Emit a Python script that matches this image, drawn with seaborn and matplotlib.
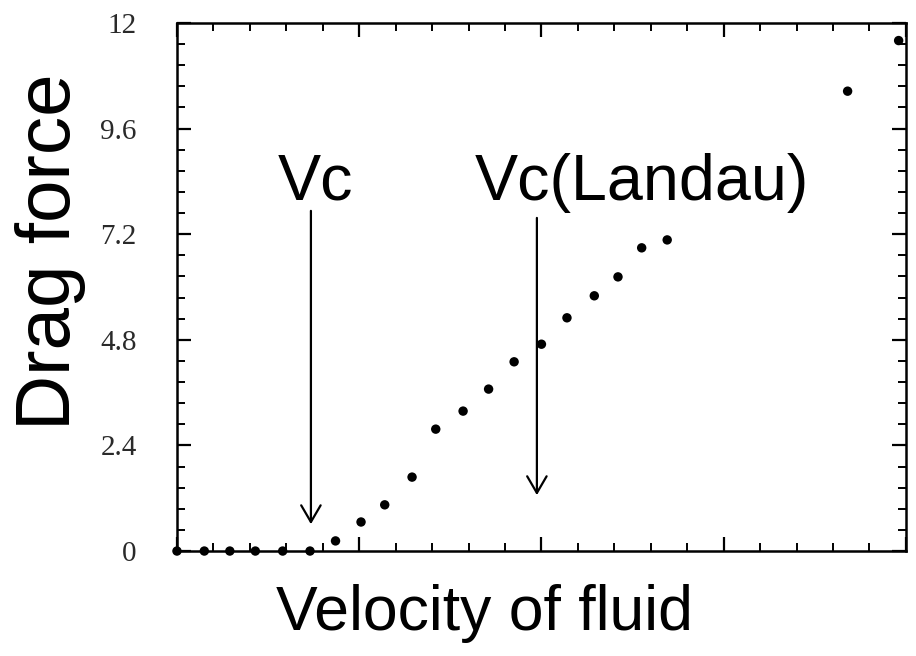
import matplotlib
matplotlib.use("Agg")
import matplotlib.pyplot as plt
from matplotlib.ticker import MultipleLocator
import seaborn as sns
import pandas as pd

# data (arbitrary velocity units)
velocity = [0.0, 0.15, 0.29, 0.43, 0.58, 0.73, 0.87, 1.01, 1.14, 1.29, 1.42,
            1.57, 1.71, 1.85, 2.00, 2.14, 2.29, 2.42, 2.55, 2.69, 3.68, 3.96]
drag = [0.0, 0.0, 0.0, 0.0, 0.0, 0.0, 0.23, 0.66, 1.05, 1.68, 2.77,
        3.18, 3.68, 4.30, 4.70, 5.30, 5.80, 6.23, 6.89, 7.07, 10.45, 11.60]
y_ticks = [0, 2.4, 4.8, 7.2, 9.6, 12]
y_tick_labels = ["0", "2.4", "4.8", "7.2", "9.6", "12"]
arrow_labels = ["Vc", "Vc(Landau)"]
arrow_x = [0.735, 1.975]
arrow_top = [7.73, 7.57]
arrow_tip = [0.61, 1.27]

df = pd.DataFrame({"velocity": velocity, "drag": drag})

sns.set_style("ticks")
plt.rcParams["font.family"] = ["Liberation Sans", "DejaVu Sans"]

fig = plt.figure(figsize=(9.16, 6.56), dpi=100)
ax = fig.add_axes([0.1932, 0.16, 0.7958, 0.805])

sns.scatterplot(data=df, x="velocity", y="drag", ax=ax, color="black",
                s=46, edgecolor="none", clip_on=False, zorder=5)

ax.set_xlim(0, 4)
ax.set_ylim(0, 12)

ax.xaxis.set_major_locator(MultipleLocator(1))
ax.xaxis.set_minor_locator(MultipleLocator(0.2))
ax.set_yticks(y_ticks)
ax.set_yticklabels(y_tick_labels, fontfamily="Liberation Serif", fontsize=21,
                   color="#2a2a2a")
ax.yaxis.set_minor_locator(MultipleLocator(0.48))
ax.set_xticklabels([])

ax.tick_params(axis="both", which="major", direction="in", length=10, width=1.6,
               top=True, right=True, color="black")
ax.tick_params(axis="both", which="minor", direction="in", length=5.5, width=1.4,
               top=True, right=True, color="black")
ax.tick_params(axis="y", which="major", pad=29)

for sp in ax.spines.values():
    sp.set_visible(True)
    sp.set_linewidth(1.8)
    sp.set_color("black")

ax.set_xlabel("Velocity of fluid", fontsize=45, color="black")
ax.set_ylabel("Drag force", fontsize=55, color="black")
ax.xaxis.set_label_coords(0.4225, -0.062)
ax.yaxis.set_label_coords(-0.125, 0.566)

# annotations with arrows
text_x = [0.554, 1.635]
for lab, x, top, tip, tx in zip(arrow_labels, arrow_x, arrow_top, arrow_tip, text_x):
    ax.annotate("", xy=(x, tip), xytext=(x, top),
                arrowprops=dict(arrowstyle="->,head_length=0.6,head_width=0.35",
                                lw=1.6, color="black", mutation_scale=20,
                                shrinkA=0, shrinkB=0))
    ax.text(tx, 7.98, lab, fontsize=46.5, ha="left", va="baseline", color="black")

fig.savefig("out.png", dpi=100)
